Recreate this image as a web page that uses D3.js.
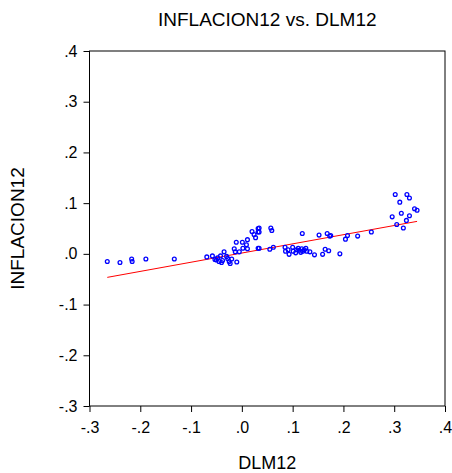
<!DOCTYPE html>
<html>
<head>
<meta charset="utf-8">
<script src="https://cdn.jsdelivr.net/npm/d3@7"></script>
<style>
body { margin: 0; background: #fff; }
text { font-family: "Liberation Sans", Arial, sans-serif; fill: #000; }
</style>
</head>
<body>
<script>
var W = 452, H = 473;
var margin = {top: 51, right: 7, bottom: 67, left: 89.5};

// DLM12 (x) and INFLACION12 (y)
var dlm12 = [-0.265, -0.240, -0.217, -0.216, -0.189, -0.133,
	-0.069, -0.058, -0.053, -0.048, -0.045, -0.042, -0.038, -0.035, -0.030, -0.025,
	-0.023, -0.020, -0.015, -0.013, -0.010, -0.011, -0.005, 0.001, 0.002, 0.009,
	0.011, 0.011, 0.020, 0.024, 0.027, 0.032, 0.032, 0.032, 0.034, 0.034,
	0.034, 0.057, 0.059, 0.055, 0.062, 0.119, 0.085, 0.086, 0.093, 0.091,
	0.100, 0.101, 0.106, 0.111, 0.113, 0.118, 0.120, 0.123, 0.126, 0.128,
	0.134, 0.143, 0.152, 0.159, 0.164, 0.168, 0.171, 0.173, 0.175, 0.193,
	0.204, 0.208, 0.228, 0.255, 0.296, 0.302, 0.305, 0.311, 0.314, 0.318,
	0.325, 0.330, 0.330, 0.324, 0.340, 0.345, -0.050, -0.040, -0.028, 0.108, 0.116];
var inflacion12 = [-0.015, -0.017, -0.010, -0.015, -0.010, -0.010,
	-0.006, -0.004, -0.011, -0.008, -0.015, -0.004, -0.013, 0.004, -0.005, -0.015,
	-0.019, -0.010, 0.010, 0.004, -0.016, 0.023, 0.004, 0.023, 0.011, 0.018,
	0.028, 0.010, 0.044, 0.038, 0.032, 0.050, 0.043, 0.011, 0.051, 0.043,
	0.011, 0.051, 0.046, 0.009, 0.013, 0.040, 0.013, 0.005, -0.001, 0.008,
	0.013, 0.005, 0.002, 0.011, 0.007, 0.010, 0.005, 0.008, 0.011, 0.005,
	0.004, -0.002, 0.037, -0.001, 0.009, 0.040, 0.006, 0.035, 0.036, 0.000,
	0.029, 0.036, 0.035, 0.043, 0.073, 0.117, 0.058, 0.102, 0.080, 0.051,
	0.117, 0.110, 0.075, 0.066, 0.089, 0.086, -0.012, -0.017, -0.009, 0.008, 0.003];

// fitted regression line
var fitIntercept = 0.0016;
var fitSlope = 0.181;

var xTicks = [-0.3, -0.2, -0.1, 0.0, 0.1, 0.2, 0.3, 0.4];
var yTicks = [-0.3, -0.2, -0.1, 0.0, 0.1, 0.2, 0.3, 0.4];
var fmt = v => (v < 0 ? "-" : "") + "." + Math.round(Math.abs(v) * 10);

var svg = d3.select("body").append("svg")
	.attr("width", W)
	.attr("height", H);

var x = d3.scaleLinear().domain([-0.3, 0.4]).range([margin.left, W - margin.right]);
var y = d3.scaleLinear().domain([-0.3, 0.4]).range([H - margin.bottom, margin.top]);

// frame
svg.append("rect")
	.attr("x", x(-0.3))
	.attr("y", y(0.4))
	.attr("width", x(0.4) - x(-0.3))
	.attr("height", y(-0.3) - y(0.4))
	.attr("fill", "none")
	.attr("stroke", "#000")
	.attr("stroke-width", 1);

// axes
var xAxis = svg.append("g")
	.attr("transform", "translate(0," + y(-0.3) + ")")
	.call(d3.axisBottom(x).tickValues(xTicks).tickFormat(fmt).tickSize(6).tickPadding(10));
var yAxis = svg.append("g")
	.attr("transform", "translate(" + x(-0.3) + ",0)")
	.call(d3.axisLeft(y).tickValues(yTicks).tickFormat(fmt).tickSize(6).tickPadding(6));
[xAxis, yAxis].forEach(a => {
	a.select(".domain").remove();
	a.selectAll("line").attr("stroke", "#000");
	a.selectAll("text").attr("font-size", "16px").attr("font-family", "Liberation Sans, Arial, sans-serif");
});

// regression line
var xmin = d3.min(dlm12), xmax = d3.max(dlm12);
svg.append("line")
	.attr("x1", x(xmin)).attr("y1", y(fitIntercept + fitSlope * xmin))
	.attr("x2", x(xmax)).attr("y2", y(fitIntercept + fitSlope * xmax))
	.attr("stroke", "#ff0000")
	.attr("stroke-width", 1);

// points
svg.append("g").selectAll("circle")
	.data(d3.range(dlm12.length))
	.enter()
	.append("circle")
	.attr("cx", i => x(dlm12[i]))
	.attr("cy", i => y(inflacion12[i]))
	.attr("r", 1.9)
	.attr("fill", "none")
	.attr("stroke", "#0000ff")
	.attr("stroke-width", 1.3);

// titles
svg.append("text")
	.attr("x", (x(-0.3) + x(0.4)) / 2)
	.attr("y", 25.5)
	.attr("text-anchor", "middle")
	.attr("font-size", "19px")
	.text("INFLACION12 vs. DLM12");

svg.append("text")
	.attr("x", (x(-0.3) + x(0.4)) / 2)
	.attr("y", 469)
	.attr("text-anchor", "middle")
	.attr("font-size", "18px")
	.text("DLM12");

svg.append("text")
	.attr("transform", "translate(24," + (y(-0.3) + y(0.4)) / 2 + ") rotate(-90)")
	.attr("text-anchor", "middle")
	.attr("font-size", "19px")
	.text("INFLACION12");
</script>
</body>
</html>
